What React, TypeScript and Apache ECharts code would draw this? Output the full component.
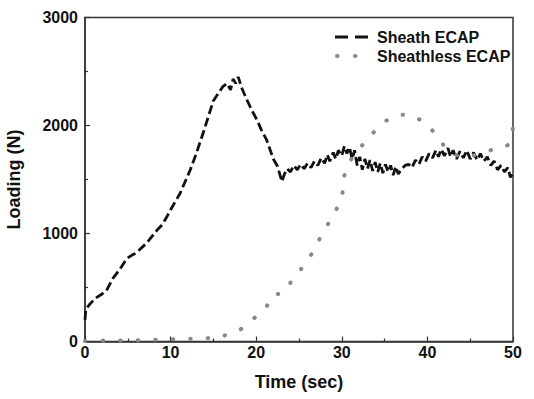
import React, { useEffect, useRef } from "react";
import * as echarts from "echarts";

const sheathTime = [
  0, 0.1, 0.5, 1.2, 2, 2.5, 3.3, 4, 4.9, 5.5, 6, 6.5, 7.2, 8, 8.4, 9, 9.6, 10, 11.1, 12.3, 13, 13.8, 14.4, 15,
  16.1, 16.6, 17, 17.3, 17.6, 17.9, 18.3, 18.9, 19.5, 20.1, 20.6, 21.2, 21.6, 22, 22.5, 23, 23.3, 23.6, 24, 24.4,
  24.8, 25.2, 25.6, 26, 26.4, 26.8, 27.2, 27.6, 28, 28.3, 28.6, 29, 29.3, 29.6, 30, 30.3, 30.6, 30.9, 31.2, 31.5,
  31.8, 32.1, 32.4, 32.7, 33, 33.3, 33.6, 33.9, 34.2, 34.5, 34.8, 35.1, 35.4, 35.7, 36, 36.3, 36.6, 37, 37.4, 37.8,
  38.2, 38.6, 39, 39.4, 39.8, 40.2, 40.6, 41, 41.3, 41.6, 42, 42.4, 42.7, 43, 43.4, 43.8, 44.2, 44.6, 45, 45.4,
  45.8, 46.2, 46.6, 47, 47.4, 47.8, 48.2, 48.6, 49, 49.4, 49.7, 50,
];
const sheathLoad = [
  200, 300, 340, 400, 440, 470, 590, 660, 770, 800, 820, 860, 910, 990, 1030, 1080, 1160, 1220, 1370, 1590, 1740,
  1930, 2080, 2230, 2360, 2390, 2330, 2430, 2390, 2450, 2350, 2240, 2140, 2050, 1960, 1870, 1780, 1690, 1620, 1480,
  1550, 1600, 1570, 1630, 1590, 1640, 1600, 1650, 1610, 1670, 1630, 1700, 1650, 1730, 1670, 1750, 1690, 1770, 1720,
  1810, 1740, 1800, 1690, 1770, 1630, 1710, 1590, 1690, 1600, 1680, 1580, 1660, 1570, 1650, 1560, 1640, 1570, 1630,
  1540, 1620, 1550, 1600, 1630, 1640, 1610, 1680, 1640, 1710, 1670, 1740, 1700, 1770, 1710, 1780, 1720, 1790, 1710,
  1770, 1690, 1760, 1700, 1770, 1690, 1750, 1680, 1740, 1670, 1710, 1630, 1670, 1590, 1630, 1570, 1610, 1520, 1560,
];

const sheathlessTime = [
  0, 2, 4, 6, 8, 10, 12, 14, 15.5, 16.5, 17.7, 18.6, 19.5, 20.3, 21.1, 22, 23, 23.7, 24.3, 25, 25.6, 26.2, 26.7,
  27.2, 27.7, 28.2, 28.7, 29.2, 29.6, 30, 30.2, 30.7, 31.3, 32.2, 33.1, 34, 34.8, 35.8, 36.8, 38.3, 39.2, 40.1,
  40.8, 41.5, 42.2, 43, 44, 45, 46, 47, 47.7, 48.5, 49.4, 49.8, 50,
];
const sheathlessLoad = [
  5, 8, 10, 12, 15, 20, 25, 30, 40, 60, 90, 140, 200, 250, 310, 430, 450, 510, 580, 640, 720, 780, 840, 920, 990,
  1060, 1130, 1200, 1260, 1330, 1500, 1620, 1710, 1800, 1880, 1960, 2020, 2070, 2100, 2080, 2050, 2000, 1930, 1860,
  1790, 1740, 1720, 1720, 1740, 1760, 1780, 1800, 1820, 1880, 2000,
];

const seriesNames = ["Sheath ECAP", "Sheathless ECAP"];

const FONT = "'Liberation Sans', Arial, sans-serif";

export default function App() {
  const ref = useRef<HTMLDivElement>(null);
  useEffect(() => {
    if (!ref.current) return;
    const chart = echarts.init(ref.current, null, { renderer: "svg" });
    const axisCommon = {
      axisLine: { show: true, lineStyle: { color: "#333", width: 1.5 } },
      axisTick: { show: true, inside: true, length: 5, lineStyle: { color: "#333", width: 1.2 } },
      minorTick: { show: true, splitNumber: 2, length: 3, lineStyle: { color: "#333", width: 1.2 } },
      splitLine: { show: false },
      axisLabel: {
        color: "#111",
        fontSize: 16,
        fontWeight: "bold",
        fontFamily: FONT,
        formatter: (v: number) => String(v),
      },
      nameTextStyle: { color: "#111", fontSize: 18, fontWeight: "bold", fontFamily: FONT },
      nameLocation: "middle",
    };
    chart.setOption({
      animation: false,
      backgroundColor: "#fff",
      grid: {
        left: 85,
        right: 21,
        top: 17.5,
        bottom: 57.5,
        show: true,
        borderColor: "#333",
        borderWidth: 1.5,
        containLabel: false,
        outerBoundsMode: "none",
      },
      xAxis: {
        ...axisCommon,
        type: "value",
        min: 0,
        max: 50,
        interval: 10,
        name: "Time (sec)",
        nameGap: 31,
        axisLabel: { ...axisCommon.axisLabel, margin: 3 },
      },
      yAxis: {
        ...axisCommon,
        type: "value",
        min: 0,
        max: 3000,
        interval: 1000,
        name: "Loading (N)",
        nameGap: 62,
        axisLabel: { ...axisCommon.axisLabel, margin: 7 },
      },
      series: [
        {
          name: seriesNames[0],
          type: "line",
          data: sheathTime.map((t, i) => [t, sheathLoad[i]]),
          showSymbol: false,
          lineStyle: { color: "#111", width: 2.8, type: [9, 4] },
        },
        {
          name: seriesNames[1],
          type: "line",
          smooth: true,
          data: sheathlessTime.map((t, i) => [t, sheathlessLoad[i]]),
          showSymbol: false,
          lineStyle: { color: "#888", width: 4, type: [0.5, 17], cap: "round" },
        },
      ],
      graphic: [
        {
          type: "line",
          shape: { x1: 335, y1: 37, x2: 368, y2: 37 },
          style: { stroke: "#111", lineWidth: 2.8, lineDash: [13, 7] },
        },
        {
          type: "line",
          shape: { x1: 337, y1: 56, x2: 373, y2: 56 },
          style: { stroke: "#888", lineWidth: 4, lineDash: [0.5, 17.5], lineCap: "round" },
        },
        {
          type: "text",
          x: 377,
          y: 37,
          style: {
            text: seriesNames[0],
            fill: "#111",
            font: `bold 16px ${FONT}`,
            verticalAlign: "middle",
          },
        },
        {
          type: "text",
          x: 377,
          y: 56,
          style: {
            text: seriesNames[1],
            fill: "#111",
            font: `bold 16px ${FONT}`,
            verticalAlign: "middle",
          },
        },
      ],
    });
    return () => chart.dispose();
  }, []);
  return <div ref={ref} style={{ width: 534, height: 399, position: "absolute", left: 0, top: 0 }} />;
}
